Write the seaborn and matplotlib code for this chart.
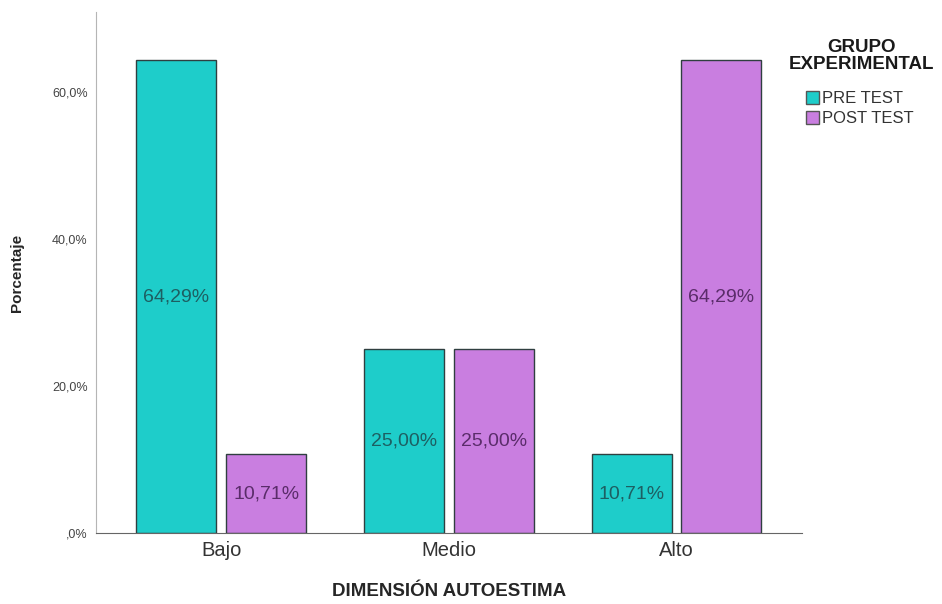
import matplotlib
matplotlib.use("Agg")
import matplotlib.pyplot as plt
from matplotlib.patches import Patch
import seaborn as sns
import pandas as pd

categories = ["Bajo", "Medio", "Alto"]
groups = ["PRE TEST", "POST TEST"]
pre_test = [64.29, 25.00, 10.71]
post_test = [10.71, 25.00, 64.29]
y_ticks = [0, 20, 40, 60]
y_tick_labels = [",0%", "20,0%", "40,0%", "60,0%"]

bar_colors = ["#1ecdca", "#c97ee0"]
text_colors = ["#1d5f62", "#5a2c6a"]

df = pd.DataFrame({
    "dimension": categories * 2,
    "grupo": [groups[0]] * 3 + [groups[1]] * 3,
    "pct": pre_test + post_test,
})

sns.set_style("white")
plt.rcParams["font.family"] = ["Liberation Sans", "DejaVu Sans"]

fig = plt.figure(figsize=(9.42, 6.04), dpi=100)
ax = fig.add_axes([0.102, 0.1175, 0.749, 0.8625])

sns.barplot(data=df, x="dimension", y="pct", hue="grupo", order=categories,
            hue_order=groups, palette=bar_colors, width=0.79, gap=0.11,
            edgecolor="#2f3f40", linewidth=1.0, saturation=1, legend=False, ax=ax)

for cont, col in zip(ax.containers, text_colors):
    labels = [f"{v:.2f}%".replace(".", ",") for v in cont.datavalues]
    ax.bar_label(cont, labels=labels, label_type="center", fontsize=14, color=col)

ax.set_xlim(-0.55, 2.55)
ax.set_ylim(0, 70.8)
ax.set_yticks(y_ticks)
ax.set_yticklabels(y_tick_labels, fontsize=9, color="#444444")
ax.tick_params(axis="x", labelsize=14.5, colors="#333333", length=0, pad=6)
ax.tick_params(axis="y", length=0, pad=6)

for side in ["top", "right"]:
    ax.spines[side].set_visible(False)
ax.spines["left"].set_color("#b5b5b5")
ax.spines["bottom"].set_color("#666666")

ax.set_xlabel("DIMENSIÓN AUTOESTIMA", fontsize=13.5, fontweight="bold", labelpad=16)
ax.set_ylabel("Porcentaje", fontsize=11, fontweight="bold", labelpad=20)

# legend title drawn apart so it can sit higher above the entries
fig.text(0.915, 0.935, "GRUPO\nEXPERIMENTAL", ha="center", va="top",
         fontsize=13.5, fontweight="bold", linespacing=1.0, color="#1a1a1a")
handles = [Patch(facecolor=c, edgecolor="#555555", linewidth=1.0) for c in bar_colors]
leg = fig.legend(handles, groups, loc="upper left",
                 bbox_to_anchor=(0.843, 0.869), frameon=False, fontsize=12,
                 handlelength=0.8, handleheight=0.8, handletextpad=0.2,
                 labelspacing=0.3, borderpad=0.2)
for t in leg.get_texts():
    t.set_color("#333333")

fig.savefig("out.png", dpi=100)
